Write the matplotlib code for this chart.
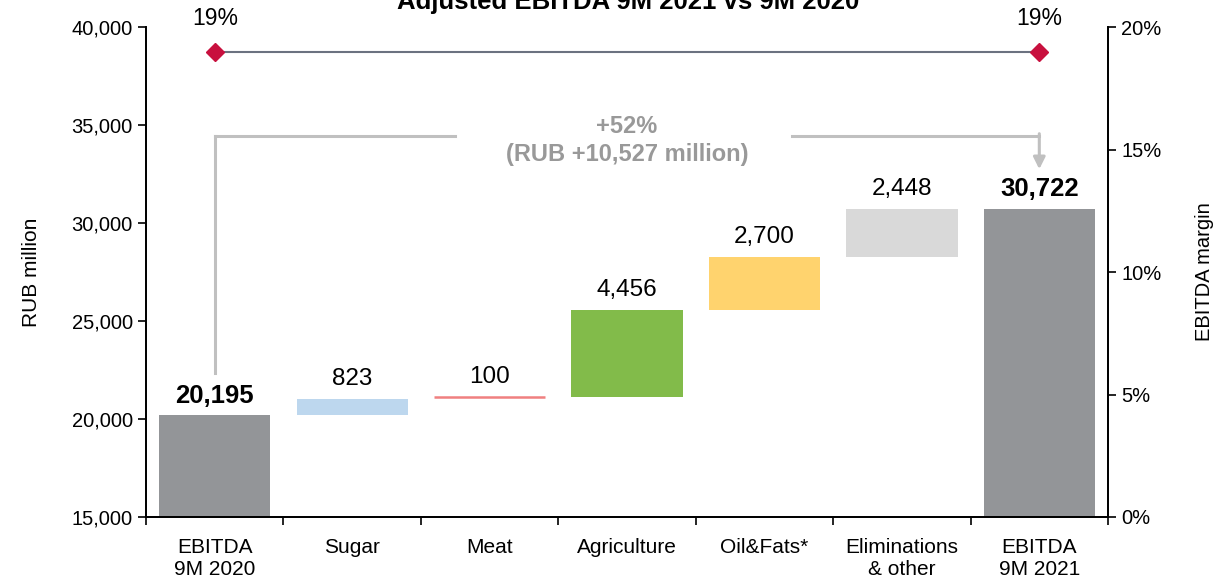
import matplotlib
matplotlib.use("Agg")
import matplotlib.pyplot as plt
from matplotlib.ticker import FuncFormatter, FixedLocator
import numpy as np

plt.rcParams['font.family'] = ['Liberation Sans', 'DejaVu Sans']

# Data (RUB million)
categories = ["EBITDA\n9M 2020", "Sugar", "Meat", "Agriculture", "Oil&Fats*",
              "Eliminations\n& other", "EBITDA\n9M 2021"]
start_total = 20195
changes = [823, 100, 4456, 2700, 2448]
end_total = 30722
margins = [19, 19]  # EBITDA margin, %
growth_pct = 52
growth_abs = 10527

colors = ["#939598", "#BDD7EE", "#F08080", "#82BB4A", "#FFD36E", "#D9D9D9", "#939598"]

fig = plt.figure(figsize=(12.18, 5.77), dpi=100)
ax = fig.add_axes([0.1199, 0.104, 0.7898, 0.849])
ax2 = ax.twinx()

ymin, ymax = 15000, 40000
ax.set_ylim(ymin, ymax)
ax.set_xlim(-0.5, 6.5)
width = 0.81

# Totals
ax.bar(0, start_total - ymin, bottom=ymin, width=width, color=colors[0], zorder=2)
ax.bar(6, end_total - ymin, bottom=ymin, width=width, color=colors[6], zorder=2)

# Incremental steps
base = start_total
for i, ch in enumerate(changes, start=1):
    if ch < 150:
        ax.plot([i - width / 2, i + width / 2], [base + ch, base + ch],
                color=colors[i], lw=1.8, zorder=2, solid_capstyle='butt')
    else:
        ax.bar(i, ch, bottom=base, width=width, color=colors[i], zorder=2)
    ax.text(i, base + ch + 450, f"{ch:,}", ha='center', va='bottom', fontsize=17.5)
    base += ch

ax.text(0, start_total + 380, f"{start_total:,}", ha='center', va='bottom',
        fontsize=18.5, fontweight='bold')
ax.text(6, end_total + 380, f"{end_total:,}", ha='center', va='bottom',
        fontsize=18.5, fontweight='bold')

# Growth bracket
bc = "#C0C0C0"
ytop = 34450
ax.plot([0, 0], [22350, ytop], color=bc, lw=2.2, zorder=1)
ax.plot([0, 1.75], [ytop, ytop], color=bc, lw=2.2, zorder=1)
ax.plot([4.2, 6], [ytop, ytop], color=bc, lw=2.2, zorder=1)
ax.annotate("", xy=(6, 32750), xytext=(6, ytop + 110),
            arrowprops=dict(arrowstyle='-|>,head_length=0.7,head_width=0.35',
                            color=bc, lw=2.2, shrinkA=0, shrinkB=0))
ax.text(3, ytop + 480, f"+{growth_pct}%", ha='center', va='center',
        fontsize=17, fontweight='bold', color="#999999")
ax.text(3, ytop - 950, f"(RUB +{growth_abs:,} million)", ha='center', va='center',
        fontsize=17, fontweight='bold', color="#999999")

# Margin line on secondary axis
ax2.set_ylim(0, 20)
ax2.plot([0, 6], margins, color="#6B7280", lw=1.5, zorder=3)
ax2.plot([0, 6], margins, linestyle='none', marker='D', markersize=9,
         color="#C8103E", zorder=4)
for x, m in zip([0, 6], margins):
    ax2.text(x, m + 0.9, f"{m}%", ha='center', va='bottom', fontsize=16.5)

# Axes styling
ax.set_yticks(np.arange(15000, 40001, 5000))
ax.yaxis.set_major_formatter(FuncFormatter(lambda v, p: f"{int(v):,}"))
ax.set_xticks(range(len(categories)))
ax.set_xticklabels(categories, fontsize=15, linespacing=1.2)
ax.xaxis.set_minor_locator(FixedLocator(np.arange(-0.5, 7, 1.0)))
ax.tick_params(axis='x', which='major', length=0, pad=15)
ax.tick_params(axis='x', which='minor', length=6, width=1.2, direction='out')
ax.tick_params(axis='y', labelsize=14.5, length=6, width=1.2, direction='out')
ax.set_ylabel("RUB million", fontsize=15, labelpad=22)

ax2.set_yticks([0, 5, 10, 15, 20])
ax2.yaxis.set_major_formatter(FuncFormatter(lambda v, p: f"{int(v)}%"))
ax2.tick_params(axis='y', labelsize=14.5, length=6, width=1.2, direction='out')
ax2.set_ylabel("EBITDA margin", fontsize=14.5, labelpad=24)

for a in (ax, ax2):
    a.spines['top'].set_visible(False)
    for s in ('left', 'right', 'bottom'):
        a.spines[s].set_linewidth(1.3)

fig.text(0.5155, 1 - 9 / 577, "Adjusted EBITDA 9M 2021 vs 9M 2020", ha='center',
         va='baseline', fontsize=18.5, fontweight='bold')

fig.savefig("out.png", dpi=100)
